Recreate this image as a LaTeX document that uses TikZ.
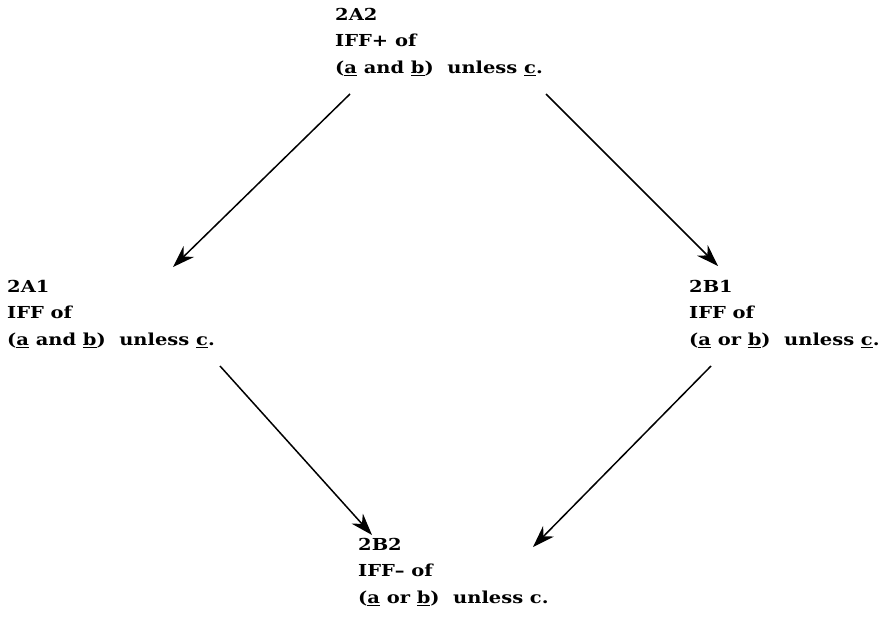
\documentclass[tikz,border=0pt]{standalone}
\usepackage{fontspec}
\setmainfont{DejaVu Serif}[FakeStretch=1.18]
\usetikzlibrary{arrows.meta}
\begin{document}
\begin{tikzpicture}[x=1pt,y=-1pt,
  lbl/.style={anchor=north west,align=left,inner sep=0pt,
    font=\fontsize{16.5}{26.5}\selectfont\bfseries},
  arr/.style={line width=1.5pt,-{Stealth[length=22pt,width=15pt,inset=7pt]}}]
\useasboundingbox[fill=white] (0,0) rectangle (889,619);
\node[lbl] (a2) at (335,8) {2A2\\IFF+ of\\(\underline{a} and \underline{b})\ \ unless \underline{c}.};
\node[lbl] (a1) at (7,280) {2A1\\IFF of\\(\underline{a} and \underline{b})\ \ unless \underline{c}.};
\node[lbl] (b1) at (689,280) {2B1\\IFF of\\(\underline{a} or \underline{b})\ \ unless \underline{c}.};
\node[lbl] (b2) at (358,538) {2B2\\IFF– of\\(\underline{a} or \underline{b})\ \ unless c.};
\draw[arr] ([xshift=15pt,yshift=-86pt]a2.north west) -- ([xshift=166pt,yshift=13pt]a1.north west);
\draw[arr] ([xshift=211pt,yshift=-86pt]a2.north west) -- ([xshift=29pt,yshift=14pt]b1.north west);
\draw[arr] ([xshift=213pt,yshift=-86pt]a1.north west) -- ([xshift=14pt,yshift=3pt]b2.north west);
\draw[arr] ([xshift=22pt,yshift=-86pt]b1.north west) -- ([xshift=175pt,yshift=-9pt]b2.north west);
\end{tikzpicture}
\end{document}
